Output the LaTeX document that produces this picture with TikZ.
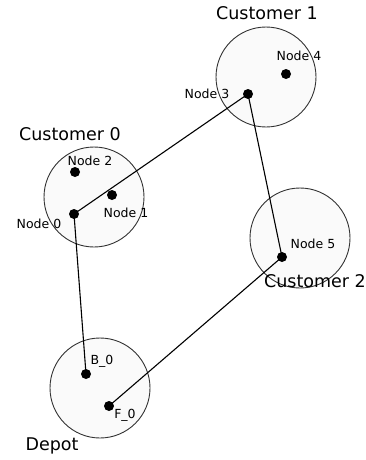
\documentclass[tikz,border=0pt]{standalone}
\usepackage{fontspec}
\setmainfont{DejaVu Sans}
\begin{document}
\begin{tikzpicture}[x=1pt,y=-1pt,
  cust/.style={circle,draw=black!80,fill=black!2,line width=0.9pt,minimum size=100pt,inner sep=0pt},
  pt/.style={circle,fill=black,minimum size=10pt,inner sep=0pt},
  biglbl/.style={font=\fontsize{17.5}{19}\selectfont,inner sep=0pt},
  lbl/.style={font=\fontsize{12.5}{14}\selectfont,inner sep=0pt},
  edge/.style={line width=1.1pt,black}]
\useasboundingbox (0,0) rectangle (365,460);
% customer circles
\node[cust] (c0) at (94,197) {};
\node[cust] (c1) at (266,77) {};
\node[cust] (c2) at (300,238) {};
\node[cust] (dp) at (100,388) {};
% titles
\node[biglbl] (t0) at (70,134) {Customer 0};
\node[biglbl] (t1) at (267,13) {Customer 1};
\node[biglbl] (t2) at (315,281) {Customer 2};
\node[biglbl] (td) at (52,446) {Depot};
% points
\node[pt] (n0) at (74,214) {};
\node[pt] (n1) at (112,195) {};
\node[pt] (n2) at (75,172) {};
\node[pt] (n3) at (248,94) {};
\node[pt] (n4) at (286,74) {};
\node[pt] (n5) at (282,257) {};
\node[pt] (b0) at (86,374) {};
\node[pt] (f0) at (109,406) {};
% edges
\draw[edge] (n0.center) -- (n3.center);
\draw[edge] (n3.center) -- (n5.center);
\draw[edge] (n5.center) -- (f0.center);
\draw[edge] (b0.center) -- (n0.center);
% point labels
\node[lbl] (l0) at (39,224) {Node 0};
\node[lbl] (l1) at (126,213) {Node 1};
\node[lbl] (l2) at (90,161) {Node 2};
\node[lbl] (l3) at (207,94) {Node 3};
\node[lbl] (l4) at (299,56) {Node 4};
\node[lbl] (l5) at (313,244) {Node 5};
\node[lbl] (lb) at (102,361) {B\_0};
\node[lbl] (lf) at (125,415) {F\_0};
\end{tikzpicture}
\end{document}
